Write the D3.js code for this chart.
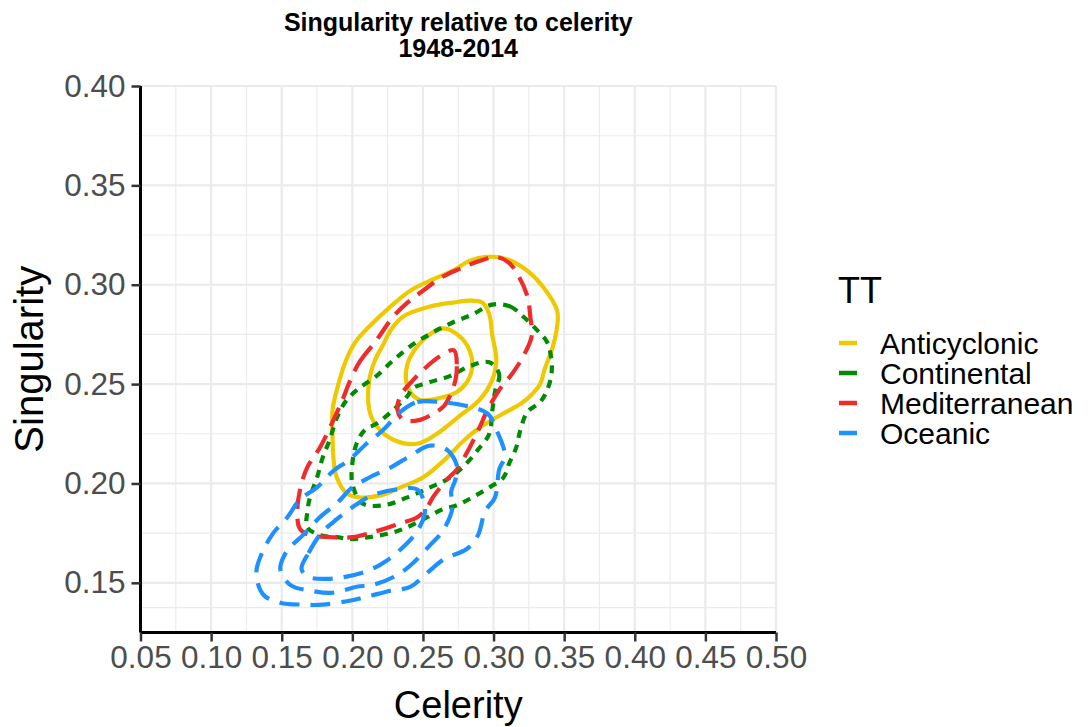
<!DOCTYPE html>
<html>
<head>
<meta charset="utf-8">
<script src="https://cdn.jsdelivr.net/npm/d3@7"></script>
<style>
  body { margin: 0; background: #fff; }
  svg { display: block; font-family: "Liberation Sans", Arial, sans-serif; }
</style>
</head>
<body>
<div id="chart"></div>
<script>
// 2D density contours of singularity vs celerity, by weather type (TT)
const types = ['Anticyclonic', 'Continental', 'Mediterranean', 'Oceanic'];
const xTicks = [0.05, 0.10, 0.15, 0.20, 0.25, 0.30, 0.35, 0.40, 0.45, 0.50];
const yTicks = [0.15, 0.20, 0.25, 0.30, 0.35, 0.40];
const xDomain = [0.05, 0.50];
const yDomain = [0.125, 0.40];

// contour rings, [celerity, singularity]
const anticyclonic = [
  [[.186,.222],[.186,.237],[.189,.247],[.195,.261],[.202,.271],[.212,.279],[.227,.289],[.241,.297],
   [.255,.302],[.271,.307],[.283,.312],[.295,.314],[.309,.313],[.324,.307],[.335,.299],[.345,.287],
   [.345,.279],[.342,.269],[.336,.257],[.333,.250],[.326,.244],[.319,.240],[.309,.236],[.299,.232],
   [.290,.228],[.278,.221],[.267,.213],[.250,.203],[.234,.198],[.220,.194],[.205,.193],[.196,.195],
   [.189,.203],[.187,.210]],
  [[.212,.252],[.212,.237],[.217,.229],[.229,.222],[.246,.220],[.260,.225],[.276,.234],[.290,.242],
   [.299,.252],[.302,.262],[.299,.275],[.297,.285],[.292,.291],[.283,.292],[.271,.291],[.255,.289],
   [.236,.284],[.227,.277],[.222,.270],[.216,.262]],
  [[.264,.278],[.276,.274],[.283,.267],[.285,.260],[.282,.252],[.274,.246],[.262,.243],[.248,.242],
   [.241,.246],[.238,.252],[.239,.260],[.244,.267],[.253,.274]]
];
const continental = [
  [[.299,.290],[.312,.289],[.321,.284],[.331,.277],[.338,.271],[.341,.262],[.341,.255],[.338,.247],
   [.333,.241],[.324,.236],[.319,.227],[.316,.218],[.311,.210],[.307,.203],[.297,.198],[.285,.193],
   [.274,.189],[.264,.187],[.253,.183],[.239,.178],[.227,.175],[.212,.173],[.200,.172],[.189,.173],
   [.177,.174],[.168,.178],[.168,.185],[.170,.193],[.175,.203],[.179,.213],[.184,.222],[.189,.233],
   [.196,.242],[.205,.248],[.217,.254],[.229,.262],[.243,.270],[.257,.276],[.271,.281],[.285,.285]],
  [[.297,.261],[.304,.255],[.301,.246],[.299,.236],[.297,.225],[.289,.217],[.278,.208],[.267,.202],
   [.255,.198],[.239,.193],[.222,.189],[.207,.190],[.200,.200],[.200,.210],[.203,.220],[.209,.227],
   [.217,.230],[.229,.237],[.239,.244],[.243,.248],[.255,.251],[.269,.254],[.283,.259]]
];
const mediterranean = [
  [[.198,.251],[.205,.261],[.217,.272],[.229,.284],[.239,.291],[.250,.297],[.264,.304],[.276,.308],
   [.290,.312],[.302,.314],[.311,.311],[.318,.304],[.324,.294],[.326,.284],[.327,.274],[.321,.264],
   [.314,.256],[.304,.247],[.295,.236],[.290,.228],[.283,.218],[.274,.207],[.267,.202],[.257,.193],
   [.253,.188],[.246,.183],[.234,.180],[.217,.176],[.200,.173],[.184,.173],[.170,.174],[.163,.177],
   [.161,.185],[.163,.197],[.168,.208],[.177,.218],[.186,.231],[.193,.242]],
  [[.272,.267],[.274,.259],[.273,.252],[.269,.244],[.265,.239],[.257,.235],[.248,.232],[.236,.232],
   [.232,.237],[.234,.244],[.243,.252],[.253,.259],[.262,.264]]
];
const oceanic = [
  [[.234,.236],[.246,.241],[.262,.241],[.281,.239],[.296,.235],[.302,.227],[.308,.214],[.304,.207],
   [.301,.193],[.294,.186],[.289,.174],[.281,.167],[.265,.162],[.253,.155],[.241,.148],[.227,.146],
   [.210,.143],[.198,.141],[.179,.139],[.165,.139],[.149,.140],[.137,.144],[.132,.155],[.136,.165],
   [.144,.175],[.154,.183],[.163,.192],[.175,.198],[.186,.206],[.198,.212],[.210,.220],[.222,.227]],
  [[.255,.219],[.267,.217],[.274,.209],[.273,.202],[.270,.196],[.271,.188],[.264,.176],[.255,.169],
   [.243,.160],[.232,.154],[.215,.149],[.203,.148],[.186,.145],[.171,.146],[.156,.149],[.149,.157],
   [.152,.164],[.156,.168],[.165,.174],[.177,.183],[.189,.190],[.200,.198],[.212,.203],[.227,.208],
   [.239,.213]],
  [[.164,.157],[.169,.165],[.178,.175],[.189,.182],[.202,.189],[.214,.194],[.232,.197],[.246,.197],
   [.251,.190],[.251,.184],[.246,.176],[.236,.168],[.224,.161],[.211,.156],[.195,.153],[.181,.152],
   [.169,.153]]
];
const contours = [anticyclonic, continental, mediterranean, oceanic];

const colors = ['#EEC900', '#008B00', '#EE2C2C', '#1E90FF'];
const dashes = [null, '8,7', '20,10', '20,11'];

const W = 1089, H = 727;
const P = { left: 140.5, right: 776, top: 86, bottom: 632.5 };

const svg = d3.select('#chart').append('svg')
  .attr('width', W).attr('height', H);

const x = d3.scaleLinear().domain(xDomain).range([P.left, P.right]);
const y = d3.scaleLinear().domain(yDomain).range([P.bottom, P.top]);

// grid
const grid = svg.append('g');
const xMinor = xTicks.slice(0, -1).map((d, i) => (d + xTicks[i + 1]) / 2);
const yMinor = [0.1375, ...yTicks.slice(0, -1).map((d, i) => (d + yTicks[i + 1]) / 2)];
xMinor.forEach(v => grid.append('line')
  .attr('x1', x(v)).attr('x2', x(v)).attr('y1', P.top).attr('y2', P.bottom)
  .attr('stroke', '#EBEBEB').attr('stroke-width', 1.1));
yMinor.forEach(v => grid.append('line')
  .attr('x1', P.left).attr('x2', P.right).attr('y1', y(v)).attr('y2', y(v))
  .attr('stroke', '#EBEBEB').attr('stroke-width', 1.1));
xTicks.forEach(v => grid.append('line')
  .attr('x1', x(v)).attr('x2', x(v)).attr('y1', P.top).attr('y2', P.bottom)
  .attr('stroke', '#EBEBEB').attr('stroke-width', 2.2));
yTicks.forEach(v => grid.append('line')
  .attr('x1', P.left).attr('x2', P.right).attr('y1', y(v)).attr('y2', y(v))
  .attr('stroke', '#EBEBEB').attr('stroke-width', 2.2));

// contours
const line = d3.line()
  .x(d => x(d[0])).y(d => y(d[1]))
  .curve(d3.curveCatmullRomClosed.alpha(0.5));

contours.forEach((rings, i) => {
  const g = svg.append('g');
  rings.forEach(r => {
    g.append('path')
      .attr('d', line(r))
      .attr('fill', 'none')
      .attr('stroke', colors[i])
      .attr('stroke-width', 4.2)
      .attr('stroke-dasharray', dashes[i]);
  });
});

// axes
const xAxis = svg.append('g')
  .attr('transform', `translate(0,${P.bottom})`)
  .call(d3.axisBottom(x).tickValues(xTicks).tickFormat(d3.format('.2f')).tickSize(9).tickPadding(4));
const yAxis = svg.append('g')
  .attr('transform', `translate(${P.left},0)`)
  .call(d3.axisLeft(y).tickValues(yTicks).tickFormat(d3.format('.2f')).tickSize(9).tickPadding(6));

[xAxis, yAxis].forEach(a => {
  a.select('.domain').attr('stroke', '#000').attr('stroke-width', 3);
  a.selectAll('.tick line').attr('stroke', '#333').attr('stroke-width', 2.5);
  a.selectAll('.tick text')
    .attr('fill', '#4D4D4D')
    .style('font-size', '31.5px')
    .style('font-family', '"Liberation Sans", Arial, sans-serif');
});
xAxis.select('.domain').attr('d', `M${P.left},0H${P.right}`);
yAxis.select('.domain').attr('d', `M0,${P.top}V${P.bottom}`);

// axis titles
svg.append('text')
  .attr('x', (P.left + P.right) / 2).attr('y', 718)
  .attr('text-anchor', 'middle').style('font-size', '38px')
  .text('Celerity');
svg.append('text')
  .attr('transform', `translate(43,${(P.top + P.bottom) / 2}) rotate(-90)`)
  .attr('text-anchor', 'middle').style('font-size', '40px')
  .text('Singularity');

// title
const title = svg.append('text')
  .attr('text-anchor', 'middle').style('font-size', '25px').style('font-weight', 'bold');
title.append('tspan').attr('x', (P.left + P.right) / 2).attr('y', 31).text('Singularity relative to celerity');
title.append('tspan').attr('x', (P.left + P.right) / 2).attr('y', 57).text('1948-2014');

// legend
const legend = svg.append('g').attr('transform', 'translate(838,0)');
legend.append('text').attr('x', 0).attr('y', 303).style('font-size', '36px').text('TT');
types.forEach((t, i) => {
  const ly = 343 + i * 30;
  legend.append('line')
    .attr('x1', 1).attr('x2', 19).attr('y1', ly).attr('y2', ly)
    .attr('stroke', colors[i]).attr('stroke-width', 4.5);
  legend.append('text')
    .attr('x', 42).attr('y', ly + 11)
    .style('font-size', '30px')
    .text(t);
});
</script>
</body>
</html>
